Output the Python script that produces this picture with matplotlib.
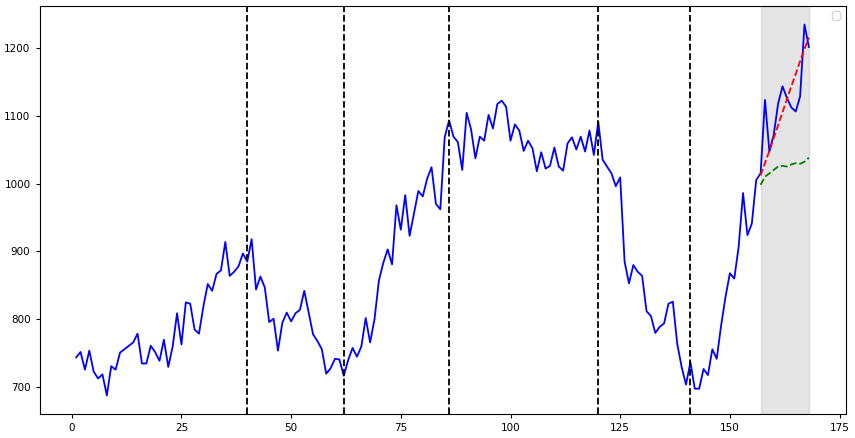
import numpy as np
import matplotlib
matplotlib.use('Agg')
import matplotlib.pyplot as plt

# observed series, x = 1..168
values = [744, 752, 726, 754, 723, 713, 719, 688, 731, 726,
          751, 756, 761, 766, 779, 735, 735, 761, 752, 739,
          770, 730, 760, 809, 763, 825, 823, 785, 779, 819,
          852, 842, 867, 872, 914, 864, 870, 878, 897, 885,
          918, 844, 863, 847, 796, 801, 754, 795, 810, 797,
          809, 814, 842, 810, 778, 768, 756, 720, 728, 742,
          741, 717, 740, 758, 745, 760, 802, 766, 800, 857,
          883, 903, 881, 968, 932, 983, 923, 956, 989, 981,
          1007, 1024, 970, 962, 1068, 1093, 1069, 1061, 1020, 1104,
          1080, 1037, 1069, 1063, 1101, 1081, 1117, 1122, 1113, 1063,
          1087, 1078, 1048, 1063, 1052, 1018, 1046, 1022, 1026, 1053,
          1025, 1019, 1059, 1068, 1050, 1069, 1047, 1078, 1042, 1091,
          1035, 1025, 1015, 996, 1009, 885, 853, 880, 870, 864,
          812, 805, 780, 789, 794, 823, 826, 764, 730, 704,
          737, 698, 698, 727, 718, 756, 742, 791, 833, 868,
          860, 907, 986, 924, 941, 1005, 1015, 1123, 1047, 1072,
          1118, 1143, 1126, 1112, 1106, 1128, 1234, 1201]
x = np.arange(1, len(values) + 1)

# forecasts over the test window
fc_x = np.arange(157, 169)
fc_red = [1012, 1030, 1048, 1067, 1086, 1105, 1124, 1143, 1161, 1180, 1198, 1215]
fc_green = [998, 1010, 1015, 1020, 1025, 1026, 1025, 1028, 1030, 1029, 1032, 1038]

breaks = [40, 62, 86, 120, 141]
window = (157, 168)

fig = plt.figure(figsize=(8.55, 4.38), dpi=100)
ax = fig.add_axes([39.5 / 855, 24 / 438, 806 / 855, 408 / 438])

ax.plot(x, values, color='blue', linewidth=1.3)
for b in breaks:
    ax.axvline(b, color='black', linestyle='--', linewidth=1.3)
ax.axvspan(window[0], window[1], color='grey', alpha=0.2)
ax.plot(fc_x, fc_red, color='red', linestyle='--', linewidth=1.3)
ax.plot(fc_x, fc_green, color='green', linestyle='--', linewidth=1.3)

ax.tick_params(labelsize=7.5, length=3)
ax.legend(loc='upper right', fontsize=7.5)

fig.savefig('out.png', dpi=100)
